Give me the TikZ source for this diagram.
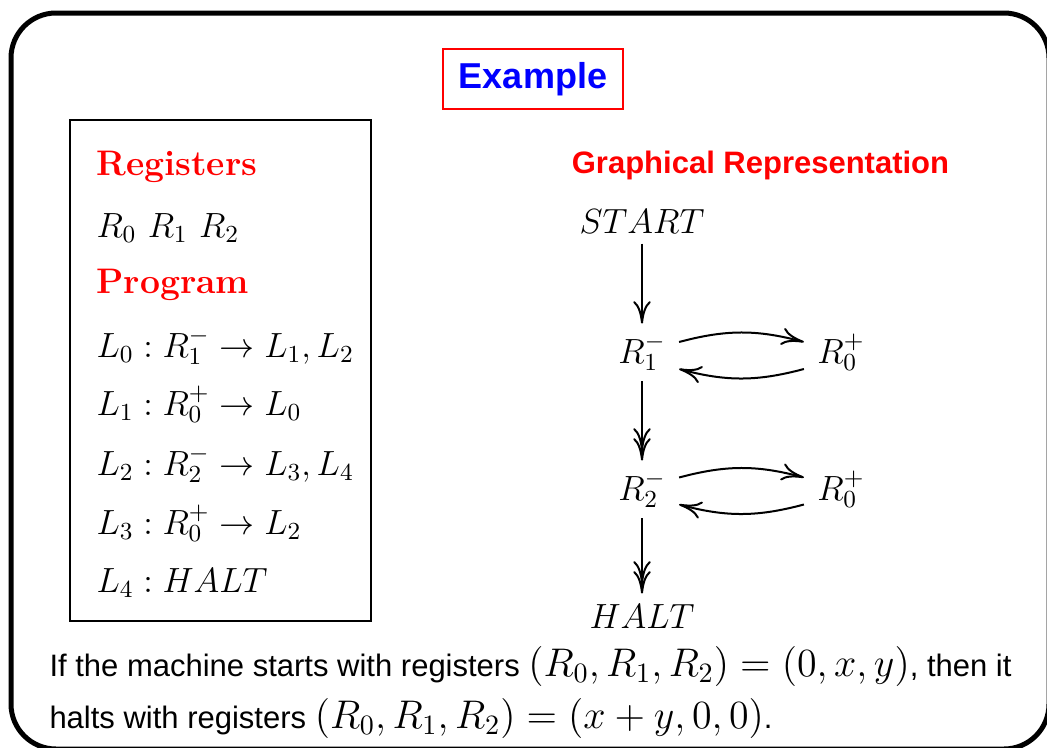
\RequirePackage{fix-cm}
\documentclass[tikz,border=0pt]{standalone}
\usepackage{fontspec}
\newfontfamily\helv{Liberation Sans}[Scale=0.775]
\newfontfamily\helvbig{Liberation Sans}
\usepackage{tikz}
\usetikzlibrary{arrows.meta,positioning}
\definecolor{slidered}{HTML}{FF0000}
\definecolor{slideblue}{HTML}{0000FF}

\begin{document}
\begin{tikzpicture}[
  x=0.4pt,y=-0.4pt,
  font=\fontsize{14}{17}\selectfont,
  lbl/.style={inner sep=0pt,anchor=base west},
  head/.style={lbl,text=slidered,font=\bfseries\fontsize{14.2}{17}\selectfont},
  st/.style={inner xsep=5.2pt,inner ysep=4pt,anchor=base},
  note/.style={lbl,font=\helv\fontsize{16}{20}\selectfont},
  arr/.style={-{Computer Modern Rightarrow[length=9pt,width=7pt]},line width=0.8pt},
  darr/.style={-{Computer Modern Rightarrow[length=9pt,width=7pt,sep=-5pt]Computer Modern Rightarrow[length=9pt,width=7pt]},line width=0.8pt}
]
\useasboundingbox (0,0) rectangle (1047,747);
\draw[line width=2pt,rounded corners=18pt] (11,13) rectangle (1049,749);
\node[draw=slidered,line width=0.8pt,minimum width=72pt,minimum height=24pt,text=slideblue,
  font=\helvbig\bfseries\fontsize{14.4}{17}\selectfont] (title) at (533,79) {Example};

\node[draw,line width=0.6pt,minimum width=120.4pt,minimum height=200.4pt] (prog) at (220.5,370.5) {};
\node[head] (reghead) at (96,175) {Registers};
\node[lbl] (regs) at (96,237) {$R_0$ $R_1$ $R_2$};
\node[head] (proghead) at (96,293) {Program};
\node[lbl] (l0) at (96,357) {$L_0 : R_1^- \to L_1, L_2$};
\node[lbl] (l1) at (96,415) {$L_1 : R_0^+ \to L_0$};
\node[lbl] (l2) at (96,475) {$L_2 : R_2^- \to L_3, L_4$};
\node[lbl] (l3) at (96,534) {$L_3 : R_0^+ \to L_2$};
\node[lbl] (l4) at (96,592) {$L_4 : HALT$};

\node[anchor=base,text=slidered,font=\helv\bfseries\fontsize{16}{18}\selectfont] (graphhead) at (760.5,173) {Graphical Representation};
\node[st] (start) at (642,233) {$START$};
\node[st] (r1) at (642,363) {$R_1^-$};
\node[st] (p1) at (841,363) {$R_0^+$};
\node[st] (r2) at (642,500) {$R_2^-$};
\node[st] (p2) at (841,500) {$R_0^+$};
\node[st] (halt) at (642,628) {$HALT$};
\draw[arr] (start.south)--(r1.north); \draw[darr] (r1.south)--(r2.north); \draw[darr] (r2.south)--(halt.north);
\draw[arr] ([yshift=8.4pt]r1.base east) to[bend left=15] ([yshift=8.4pt]p1.base west);
\draw[arr] ([yshift=-2.4pt]p1.base west) to[bend left=15] ([yshift=-2.4pt]r1.base east);
\draw[arr] ([yshift=9pt]r2.base east) to[bend left=15] ([yshift=9pt]p2.base west);
\draw[arr] ([yshift=-1.8pt]p2.base west) to[bend left=15] ([yshift=-1.8pt]r2.base east);

\node[note] (note1) at (49,676) {If the machine starts with registers $(R_0, R_1, R_2) = (0, x, y)$, then it};
\node[note] (note2) at (49,728) {halts with registers $(R_0, R_1, R_2) = (x + y, 0, 0)$.};
\end{tikzpicture}
\end{document}
